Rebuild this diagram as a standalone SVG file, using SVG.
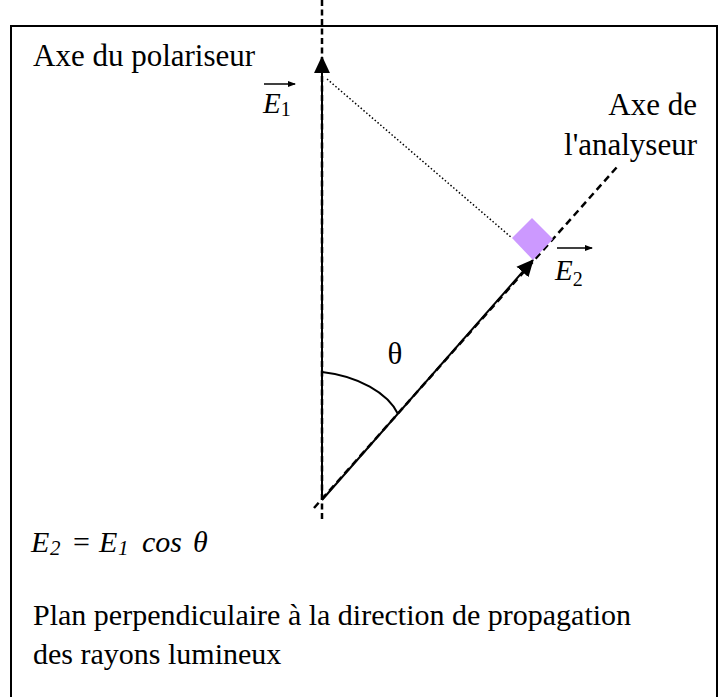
<svg xmlns="http://www.w3.org/2000/svg" width="720" height="697" viewBox="0 0 720 697">
<style>
  text { font-family: "Liberation Serif", "Times New Roman", serif; fill: #000; }
  .lbl { font-size: 31px; }
  .body { font-size: 30px; }
  .it { font-style: italic; }
  .dash { fill: none; stroke: #000; stroke-width: 2.5; }
  .vec { fill: none; stroke: #000; stroke-width: 2; }
</style>
<defs>
  <marker id="ah" markerUnits="userSpaceOnUse" markerWidth="17" markerHeight="17" viewBox="0 0 16 16" refX="15" refY="8" orient="auto">
    <path d="M0,0.5 L16,8 L0,15.5 Z" fill="#000"/>
  </marker>
  <marker id="sa" markerUnits="userSpaceOnUse" markerWidth="8" markerHeight="8" viewBox="0 0 8 8" refX="7" refY="4" orient="auto">
    <path d="M0,1 L8,4 L0,7 Z" fill="#000"/>
  </marker>
</defs>
<rect x="11" y="26" width="706" height="700" fill="#fff" stroke="#000" stroke-width="2"/>
<g id="connectors">
  <line class="dash" x1="322" y1="0" x2="322" y2="520" stroke-dasharray="6,3.5"/>
  <line class="vec" x1="322" y1="500" x2="322" y2="57" marker-end="url(#ah)"/>
  <line class="dash" x1="314" y1="508" x2="617" y2="167" stroke-dasharray="7,4.5"/>
  <line class="vec" x1="322" y1="500" x2="533" y2="260" marker-end="url(#ah)"/>
  <line x1="327" y1="79" x2="512" y2="238" stroke="#000" stroke-width="1.5" stroke-dasharray="1.5,2.2"/>
  <path d="M322,372 C358,376 388,393 398,414" fill="none" stroke="#000" stroke-width="2"/>
</g>
<g id="right-angle">
  <polygon points="532,218 553,239 533,260 512,238" fill="#cc99ff"/>
</g>
<g id="polariseur-label">
  <text class="lbl" x="33" y="66">Axe du polariseur</text>
</g>
<g id="analyseur-label">
  <text class="lbl" x="697" y="115" text-anchor="end">Axe de</text>
  <text class="lbl" x="697" y="155" text-anchor="end">l'analyseur</text>
</g>
<g id="E1-label">
  <line x1="264" y1="84" x2="295" y2="84" stroke="#000" stroke-width="1.5" marker-end="url(#sa)"/>
  <text x="263" y="113" font-size="29"><tspan class="it">E</tspan><tspan font-size="20" dy="3">1</tspan></text>
</g>
<g id="E2-label">
  <line x1="557" y1="248" x2="592" y2="248" stroke="#000" stroke-width="1.5" marker-end="url(#sa)"/>
  <text x="555" y="280" font-size="29"><tspan class="it">E</tspan><tspan font-size="20" dy="6">2</tspan></text>
</g>
<g id="theta-label">
  <text x="395" y="364" font-size="31" text-anchor="middle">θ</text>
</g>
<g id="formula">
  <text y="552" font-size="30" class="it">
    <tspan x="31">E</tspan><tspan x="50" y="555" font-size="21">2</tspan>
    <tspan x="73" y="552" font-style="normal">=</tspan>
    <tspan x="99">E</tspan><tspan x="118" y="555" font-size="21">1</tspan>
    <tspan x="142" y="552">cos</tspan>
    <tspan x="193">θ</tspan>
  </text>
</g>
<g id="caption">
  <text class="body" x="33" y="625">Plan perpendiculaire à la direction de propagation</text>
  <text class="body" x="33" y="664">des rayons lumineux</text>
</g>
</svg>
